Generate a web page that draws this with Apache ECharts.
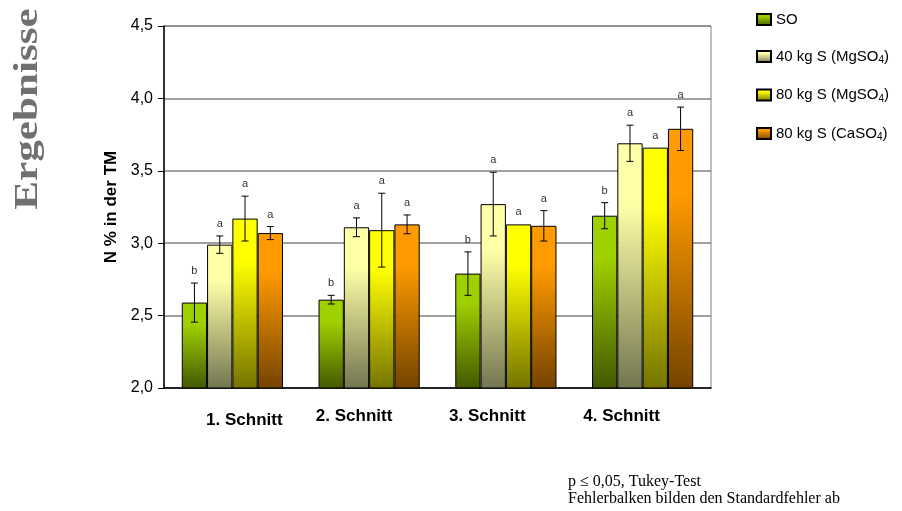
<!DOCTYPE html>
<html>
<head>
<meta charset="utf-8">
<script src="https://cdn.jsdelivr.net/npm/echarts@6/dist/echarts.min.js"></script>
<style>
  html, body { margin: 0; padding: 0; background: #fff; }
  #chart { width: 902px; height: 511px; }
</style>
</head>
<body>
<div id="chart"></div>
<script>
// Schnitte (Kategorien)
var cuts = ['1. Schnitt', '2. Schnitt', '3. Schnitt', '4. Schnitt'];
var seriesNames = ['SO', '40 kg S (MgSO4)', '80 kg S (MgSO4)', '80 kg S (CaSO4)'];

// N % in der TM
var valSO   = [2.59, 2.61, 2.79, 3.19];
var valMg40 = [2.99, 3.11, 3.27, 3.69];
var valMg80 = [3.17, 3.09, 3.13, 3.66];
var valCa80 = [3.07, 3.13, 3.12, 3.79];

// Standardfehler
var errSO   = [0.135, 0.03, 0.15, 0.09];
var errMg40 = [0.06, 0.065, 0.22, 0.125];
var errMg80 = [0.155, 0.255, 0, 0];
var errCa80 = [0.045, 0.065, 0.105, 0.15];

// Tukey Buchstaben
var letSO   = ['b', 'b', 'b', 'b'];
var letMg40 = ['a', 'a', 'a', 'a'];
var letMg80 = ['a', 'a', 'a', 'a'];
var letCa80 = ['a', 'a', 'a', 'a'];

var yTicks = [2.0, 2.5, 3.0, 3.5, 4.0, 4.5];

var values = [valSO, valMg40, valMg80, valCa80];
var errors = [errSO, errMg40, errMg80, errCa80];
var letters = [letSO, letMg40, letMg80, letCa80];

var colorPairs = [
  ['#9fd000', '#435800'],
  ['#ffffa8', '#737550'],
  ['#ffff00', '#747300'],
  ['#ff9a00', '#744300']
];

function grad(c) {
  return new echarts.graphic.LinearGradient(0, 0, 0, 1, [
    {offset: 0, color: c[0]},
    {offset: 0.25, color: c[0]},
    {offset: 1, color: c[1]}
  ]);
}

var GAP = 0.26;
var series = [];
values.forEach(function (v, k) {
  series.push({
    name: seriesNames[k],
    type: 'bar',
    data: v,
    barGap: '0%',
    barCategoryGap: (GAP * 100) + '%',
    itemStyle: { color: grad(colorPairs[k]), borderColor: '#000', borderWidth: 1 },
    emphasis: { disabled: true }
  });
});

var errData = [];
values.forEach(function (v, k) {
  v.forEach(function (val, i) {
    errData.push([i, k, val - errors[k][i], val + errors[k][i], val, letters[k][i]]);
  });
});

series.push({
  type: 'custom',
  name: 'err',
  data: errData,
  z: 10,
  renderItem: function (params, api) {
    var cat = api.value(0), k = api.value(1);
    var band = api.size([1, 0])[0];
    var gw = band * (1 - GAP);
    var bw = gw / 4;
    var c = api.coord([cat, api.value(4)]);
    var x = c[0] - gw / 2 + bw * (k + 0.5);
    var lo = api.coord([cat, api.value(2)])[1];
    var hi = api.coord([cat, api.value(3)])[1];
    var children = [];
    if (api.value(3) - api.value(2) > 0.001) {
      var st = { stroke: '#000', lineWidth: 1 };
      children.push({ type: 'line', shape: { x1: x, y1: hi, x2: x, y2: lo }, style: st });
      children.push({ type: 'line', shape: { x1: x - 3.5, y1: hi, x2: x + 3.5, y2: hi }, style: st });
      children.push({ type: 'line', shape: { x1: x - 3.5, y1: lo, x2: x + 3.5, y2: lo }, style: st });
    }
    var top = Math.min(hi, c[1]);
    children.push({
      type: 'text',
      style: {
        text: api.value(5), x: x, y: top - 12,
        fill: '#333', font: '11px "Liberation Sans", Arial',
        align: 'center', verticalAlign: 'middle'
      }
    });
    return { type: 'group', children: children };
  }
});

var labelShift = [24, -30, -37, -42];

var chart = echarts.init(document.getElementById('chart'));
chart.setOption({
  animation: false,
  backgroundColor: '#fff',
  grid: { left: 164, right: 191, top: 26, bottom: 123, show: true, borderColor: '#808080', borderWidth: 1 },
  legend: {
    orient: 'vertical',
    left: 751,
    top: 7,
    icon: 'rect',
    itemWidth: 14,
    itemHeight: 11,
    itemGap: 22,
    data: seriesNames,
    textStyle: {
      fontFamily: '"Liberation Sans", Arial',
      fontSize: 15,
      color: '#000',
      rich: {
        sub: { fontSize: 10, padding: [8, 0, 0, 0], fontFamily: '"Liberation Sans", Arial', color: '#000' }
      }
    },
    formatter: function (n) {
      return n.replace('SO4)', 'SO{sub|4})');
    }
  },
  xAxis: {
    type: 'category',
    data: cuts,
    axisLine: { lineStyle: { color: '#000', width: 1.5 } },
    axisTick: { show: false },
    axisLabel: {
      interval: 0,
      hideOverlap: false,
      margin: 20,
      fontFamily: '"Liberation Sans", Arial',
      fontWeight: 'bold',
      fontSize: 17,
      color: '#000',
      formatter: function (v, i) { return '{c' + i + '|' + v + '}'; },
      rich: {
        c0: { padding: [4, 0, 0, labelShift[0]], fontWeight: 'bold', fontSize: 17 },
        c1: { padding: [0, -labelShift[1], 0, 0], fontWeight: 'bold', fontSize: 17 },
        c2: { padding: [0, -labelShift[2], 0, 0], fontWeight: 'bold', fontSize: 17 },
        c3: { padding: [0, -labelShift[3], 0, 0], fontWeight: 'bold', fontSize: 17 }
      }
    }
  },
  yAxis: {
    type: 'value',
    min: yTicks[0],
    max: yTicks[yTicks.length - 1],
    interval: 0.5,
    name: 'N % in der TM',
    nameLocation: 'middle',
    nameGap: 42,
    nameTextStyle: { fontFamily: '"Liberation Sans", Arial', fontWeight: 'bold', fontSize: 17, color: '#000' },
    axisLine: { show: true, lineStyle: { color: '#000', width: 1.5 } },
    axisTick: { show: true, length: 6, lineStyle: { color: '#000' } },
    splitLine: { lineStyle: { color: '#808080', width: 1.5 } },
    axisLabel: {
      margin: 11,
      fontFamily: '"Liberation Sans", Arial',
      fontSize: 16,
      color: '#000',
      formatter: function (v) { return v.toFixed(1).replace('.', ','); }
    }
  },
  graphic: [
    {
      type: 'text',
      x: 28, y: 109,
      rotation: Math.PI / 2,
      scaleX: 1.27,
      style: {
        text: 'Ergebnisse',
        font: 'bold 34px "Liberation Serif", "Times New Roman", serif',
        fill: '#707070',
        align: 'center',
        verticalAlign: 'middle'
      }
    },
    {
      type: 'text',
      left: 568, top: 473,
      style: {
        text: 'p ≤ 0,05, Tukey-Test\nFehlerbalken bilden den Standardfehler ab',
        font: '16px "Liberation Serif", "Times New Roman", serif',
        lineHeight: 17,
        fill: '#000'
      }
    }
  ],
  series: series
});
</script>
</body>
</html>
